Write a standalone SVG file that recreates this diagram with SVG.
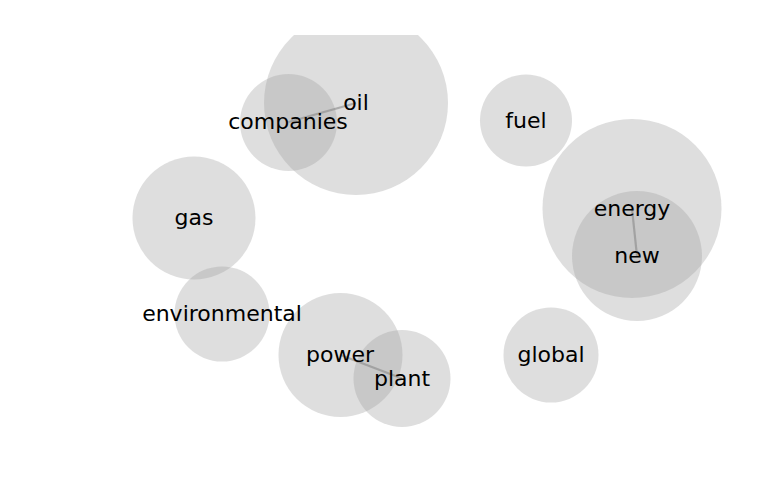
<svg xmlns="http://www.w3.org/2000/svg" width="768" height="500" viewBox="0 0 768 500">
<defs>
<clipPath id="ax"><rect x="0" y="35" width="768" height="430"/></clipPath>
</defs>
<style>
.n circle{fill:#a0a0a0;fill-opacity:0.35}
.e line{stroke:#888;stroke-width:2.2;stroke-opacity:0.6}
text{font-family:"DejaVu Sans",sans-serif;font-size:22px;fill:#000;text-anchor:middle}
</style>
<rect width="768" height="500" fill="#fff"/>
<g clip-path="url(#ax)">
<g class="n">
<g id="oil"><circle cx="356" cy="103" r="92"/></g>
<g id="companies"><circle cx="288.5" cy="122.5" r="48.5"/></g>
<g id="fuel"><circle cx="526" cy="120.5" r="46"/></g>
<g id="energy"><circle cx="632" cy="208.5" r="89.5"/></g>
<g id="new"><circle cx="637" cy="256" r="65"/></g>
<g id="gas"><circle cx="194" cy="218" r="61.5"/></g>
<g id="environmental"><circle cx="222" cy="314" r="47.5"/></g>
<g id="power"><circle cx="340.5" cy="355" r="62"/></g>
<g id="plant"><circle cx="402" cy="378.5" r="48.5"/></g>
<g id="global"><circle cx="551" cy="355" r="47.5"/></g>
</g>
<g id="connectors" class="e">
<line x1="288.5" y1="122" x2="356" y2="103"/>
<line x1="632" y1="208.5" x2="637" y2="256"/>
<line x1="340.5" y1="355" x2="402" y2="378.5"/>
</g>
<g id="labels">
<text x="356" y="110">oil</text>
<text x="288" y="129">companies</text>
<text x="526" y="127.5">fuel</text>
<text x="632" y="215.5">energy</text>
<text x="637" y="263">new</text>
<text x="194" y="225">gas</text>
<text x="222" y="321">environmental</text>
<text x="340" y="362">power</text>
<text x="402" y="385.5">plant</text>
<text x="551" y="362">global</text>
</g>
</g>
</svg>
